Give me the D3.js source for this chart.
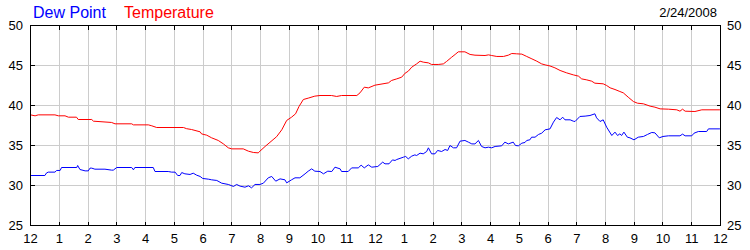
<!DOCTYPE html>
<html><head><meta charset="utf-8">
<script src="https://cdn.jsdelivr.net/npm/d3@7"></script>
<style>body{margin:0;background:#fff}svg{display:block}text{font-family:Arial,"Liberation Sans",sans-serif}</style>
</head><body><svg id="c" width="750" height="250"></svg>
<script>
const hourLabels = ["12","1","2","3","4","5","6","7","8","9","10","11","12","1","2","3","4","5","6","7","8","9","10","11","12"];
const yTicks = [25,30,35,40,45,50];
const seriesNames = ["Dew Point","Temperature"];
const dateLabel = "2/24/2008";

const tempHours = [0,0.16,0.27,0.85,0.97,1.2,1.32,1.6,1.66,2.13,2.19,2.82,2.94,3.52,3.58,4.1,4.22,4.39,5.32,5.43,5.6,5.9,5.95,6.13,6.3,6.53,6.71,6.88,7.0,7.4,7.58,7.75,7.92,7.98,8.16,8.33,8.56,8.74,8.91,9.08,9.22,9.34,9.49,9.66,9.89,10.07,10.47,10.65,10.82,11.35,11.46,11.61,11.75,11.98,12.45,12.56,12.74,12.91,13.03,13.14,13.26,13.43,13.55,13.66,13.84,13.95,14.18,14.36,14.47,14.65,14.77,14.88,15.11,15.29,15.46,15.81,15.93,16.04,16.22,16.45,16.62,16.74,16.91,17.09,17.26,17.44,17.61,17.78,17.9,18.07,18.24,18.42,18.65,18.88,19.06,19.17,19.35,19.52,19.63,19.92,20.04,20.16,20.33,20.5,20.62,20.79,20.97,21.11,21.32,21.55,21.72,21.9,22.19,22.48,22.59,22.68,22.77,23.11,23.35,23.98];
const tempValues = [38.83,38.71,38.83,38.83,38.71,38.71,38.54,38.54,38.25,38.25,38.04,37.88,37.71,37.71,37.58,37.58,37.46,37.25,37.25,37.1,37.0,36.71,36.45,36.29,35.96,35.63,35.2,34.71,34.58,34.58,34.29,34.13,34.08,34.29,34.88,35.4,36.1,36.96,38.13,38.54,38.96,39.88,40.75,40.92,41.17,41.25,41.25,41.13,41.25,41.25,41.58,42.29,42.2,42.54,42.83,43.13,43.33,43.54,44.04,44.29,44.79,45.2,45.54,45.42,45.33,45.13,45.13,45.2,45.5,46.04,46.38,46.71,46.71,46.38,46.29,46.25,46.33,46.25,46.13,46.13,46.29,46.5,46.46,46.42,46.13,45.83,45.54,45.2,45.08,44.94,44.71,44.38,44.08,43.83,43.67,43.33,43.2,43.04,42.79,42.71,42.5,42.21,42.0,41.75,41.58,41.04,40.5,40.29,40.21,39.92,39.79,39.58,39.54,39.46,39.29,39.54,39.29,39.25,39.46,39.46];

const dewHours = [0,0.5,0.56,0.62,0.85,0.91,1.03,1.08,1.61,1.64,1.72,1.9,2.01,2.07,2.13,2.24,2.59,2.82,2.88,3.0,3.52,3.58,3.63,4.27,4.33,4.79,4.91,5.03,5.12,5.2,5.26,5.37,5.55,5.66,5.78,5.9,5.99,6.19,6.3,6.48,6.65,6.88,7.06,7.17,7.29,7.46,7.58,7.69,7.81,7.98,8.1,8.27,8.39,8.53,8.68,8.85,8.91,9.08,9.2,9.37,9.55,9.66,9.78,9.89,10.07,10.19,10.34,10.48,10.59,10.77,10.82,11.05,11.17,11.4,11.5,11.61,11.75,11.87,12.08,12.25,12.33,12.47,12.59,12.68,12.74,12.97,13.05,13.14,13.26,13.37,13.43,13.55,13.66,13.78,13.84,13.95,14.07,14.16,14.3,14.42,14.51,14.59,14.71,14.82,14.94,15.11,15.23,15.35,15.46,15.58,15.69,15.81,15.93,16.04,16.16,16.39,16.5,16.62,16.79,16.87,16.97,17.09,17.2,17.26,17.37,17.43,17.55,17.67,17.78,17.9,18.07,18.19,18.3,18.42,18.51,18.59,18.77,18.88,18.94,19.11,19.29,19.46,19.63,19.69,19.81,19.92,20.04,20.22,20.33,20.42,20.5,20.56,20.64,20.76,20.85,20.99,21.14,21.32,21.46,21.61,21.72,21.87,22.0,22.19,22.59,22.68,22.77,23.0,23.08,23.23,23.52,23.58,23.98];
const dewValues = [31.25,31.25,31.58,31.67,31.67,31.88,31.88,32.25,32.25,32.5,32.0,31.83,31.83,32.17,32.17,32.04,32.04,31.92,31.92,32.25,32.25,31.96,32.25,32.25,31.75,31.75,31.67,31.67,31.25,31.25,31.62,31.46,31.38,31.54,31.29,31.13,30.88,30.79,30.71,30.63,30.29,30.13,29.88,30.13,29.92,29.79,29.96,29.71,30.13,30.13,30.29,30.96,31.13,30.54,30.83,30.71,30.33,30.71,30.96,30.96,31.46,31.79,32.08,31.79,31.75,31.46,31.79,31.75,32.29,32.08,31.75,31.75,32.2,32.2,32.54,32.2,32.58,32.29,32.38,32.92,32.71,32.71,33.2,33.13,33.25,33.54,33.63,33.33,33.67,33.83,33.75,34.04,33.96,34.25,34.71,33.96,33.96,34.38,34.25,34.5,34.38,35.0,34.71,34.71,35.54,35.63,35.42,35.2,35.2,35.63,34.88,34.71,34.79,34.71,34.88,34.96,35.42,35.2,35.42,35.0,34.96,35.29,35.38,35.63,35.71,36.04,36.04,36.38,36.54,36.96,37.08,37.92,38.5,38.21,38.54,38.21,38.21,38.04,38.0,38.63,38.67,38.75,38.96,38.46,38.0,38.21,37.29,36.25,36.67,36.25,36.46,36.25,36.67,36.04,35.96,35.71,36.04,36.13,36.38,36.63,36.58,35.96,36.13,36.21,36.21,36.42,36.21,36.21,36.54,36.75,36.75,37.08,37.08];

const svg = d3.select("#c");
const x = d3.scaleLinear().domain([0,24]).range([30.5,720.5]);
const y = d3.scaleLinear().domain([25,50]).range([225.5,25.5]);
const px = v => Math.floor(x(v)) + 0.5;
const py = v => Math.floor(y(v)) + 0.5;
const hourIdx = d3.range(hourLabels.length);

// grid
const grid = svg.append("g").attr("stroke","#cccccc").attr("stroke-width",1).attr("shape-rendering","crispEdges");
grid.selectAll("line.v").data(hourIdx.slice(1,-1)).join("line")
  .attr("x1",d=>px(d)).attr("x2",d=>px(d)).attr("y1",y(50)).attr("y2",y(25));
grid.selectAll("line.h").data(yTicks.slice(1,-1)).join("line")
  .attr("x1",x(0)).attr("x2",x(24)).attr("y1",d=>py(d)).attr("y2",d=>py(d));

// lines
const dewData = dewHours.map((h,i)=>[h,dewValues[i]]);
const tempData = tempHours.map((h,i)=>[h,tempValues[i]]);
const line = d3.line().x(d=>x(d[0])).y(d=>y(d[1]));
svg.append("path").datum(dewData).attr("d",line).attr("fill","none").attr("stroke","#0000ff").attr("stroke-width",1);
svg.append("path").datum(tempData).attr("d",line).attr("fill","none").attr("stroke","#ff0000").attr("stroke-width",1);

// frame and ticks
const ax = svg.append("g").attr("stroke","#000").attr("stroke-width",1).attr("shape-rendering","crispEdges");
ax.append("rect").attr("x",px(0)).attr("y",py(50)).attr("width",px(24)-px(0)).attr("height",py(25)-py(50)).attr("fill","none");
ax.selectAll("line.bt").data(hourIdx).join("line")
  .attr("x1",d=>px(d)).attr("x2",d=>px(d)).attr("y1",py(25)).attr("y2",py(25)-4);
ax.selectAll("line.tt").data(hourIdx).join("line")
  .attr("x1",d=>px(d)).attr("x2",d=>px(d)).attr("y1",py(50)).attr("y2",py(50)+4);
ax.selectAll("line.lt").data(yTicks).join("line")
  .attr("x1",px(0)).attr("x2",px(0)+4).attr("y1",d=>py(d)).attr("y2",d=>py(d));
ax.selectAll("line.rt").data(yTicks).join("line")
  .attr("x1",px(24)).attr("x2",px(24)-4).attr("y1",d=>py(d)).attr("y2",d=>py(d));

// labels
const lab = svg.append("g").attr("font-size",13).attr("fill","#000");
lab.selectAll("text.x").data(hourIdx).join("text")
  .attr("x",d=>x(d)).attr("y",243).attr("text-anchor","middle").text(d=>hourLabels[d]);
lab.selectAll("text.yl").data(yTicks).join("text")
  .attr("x",23).attr("y",d=>y(d)+4.5).attr("text-anchor","end").text(d=>d);
lab.selectAll("text.yr").data(yTicks).join("text")
  .attr("x",727).attr("y",d=>y(d)+4.5).attr("text-anchor","start").text(d=>d);
lab.append("text").attr("x",717).attr("y",17).attr("text-anchor","end").text(dateLabel);

svg.append("text").attr("x",33).attr("y",17.5).attr("font-size",16).attr("fill","#0000ff").text(seriesNames[0]);
svg.append("text").attr("x",124).attr("y",17.5).attr("font-size",16).attr("fill","#ff0000").text(seriesNames[1]);
</script></body></html>
